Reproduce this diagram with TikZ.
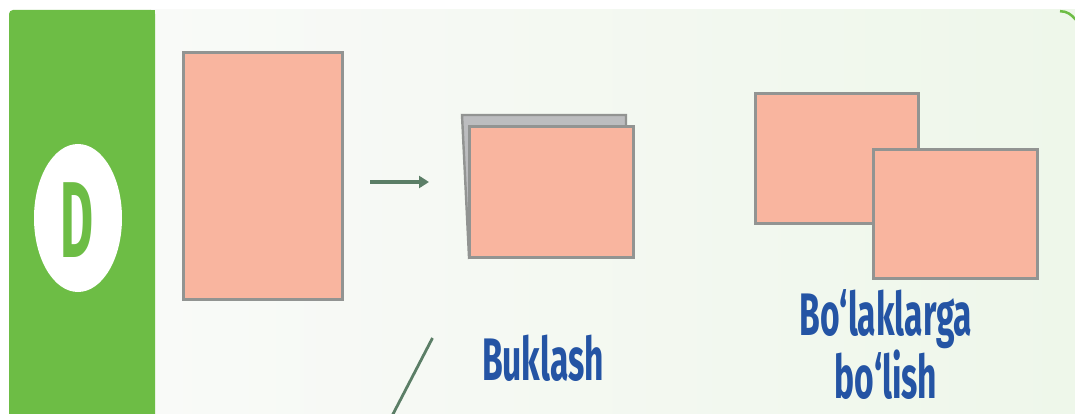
\documentclass[tikz,border=0pt]{standalone}
\usepackage{fontspec}
\newfontfamily\lblfont[FakeStretch=0.56]{Fira Sans}
\newfontfamily\badgefont[FakeStretch=0.47]{Fira Sans}
\usetikzlibrary{arrows.meta,shapes.geometric}
\definecolor{barGreen}{HTML}{6DBD45}
\definecolor{lblBlue}{HTML}{2454A4}
\definecolor{sheet}{HTML}{F9B59F}
\definecolor{sheetEdge}{HTML}{929492}
\definecolor{backSheet}{HTML}{BCBDBF}
\definecolor{arrowGreen}{HTML}{5B7E66}
\definecolor{bgLeft}{HTML}{F9FAF8}
\definecolor{bgRight}{HTML}{EEF7EA}
\tikzset{
  paper/.style={fill=sheet, draw=sheetEdge, line width=3pt},
  label/.style={text=lblBlue, font=\lblfont\bfseries\fontsize{60}{50}\selectfont, inner sep=0pt, align=center},
  connector/.style={draw=arrowGreen, line width=3.4pt},
}
\begin{document}
\begin{tikzpicture}[x=1pt,y=-1pt]
\useasboundingbox (0,0) rectangle (1075,414);
\fill[white] (0,0) rectangle (1075,414);
% light panel
\shade[left color=bgLeft, right color=bgRight] (150,10) rectangle (1075,414);
\draw[barGreen, line width=2.5pt] (1060,11.2) to[out=0,in=130] (1076,20);
% green bar
\fill[barGreen, rounded corners=4pt] (9,10) rectangle (155,430);
\fill[barGreen] (145,10) rectangle (155,414);
% badge
\node[ellipse, fill=white, minimum width=88pt, minimum height=148pt, inner sep=0pt] (badge) at (78,218) {};
\node[text=barGreen, font=\badgefont\bfseries\fontsize{108}{108}\selectfont, inner sep=0pt, anchor=base] (badgeD) at (77.5,257) {D};
% sheet 1
\node[paper, minimum width=159pt, minimum height=247pt, inner sep=0pt] (sheetA) at (262.5,176) {};
% folded sheet
\fill[backSheet, draw=sheetEdge, line width=2.4pt] (462,115) -- (626,115) -- (626,128) -- (469,257) -- cycle;
\node[paper, minimum width=164pt, minimum height=130pt, inner sep=0pt] (folded) at (551,192) {};
% arrow
\coordinate (arrS) at (370,182);
\coordinate (arrE) at (429,182);
\draw[connector, -{Triangle[length=10pt,width=12pt]}] (arrS) -- (arrE);
% pieces
\node[paper, minimum width=163pt, minimum height=129pt, inner sep=0pt] (pieceA) at (836.5,158.5) {};
\node[paper, minimum width=164pt, minimum height=128pt, inner sep=0pt] (pieceB) at (955,214) {};
% diagonal line
\coordinate (diagT) at (432.5,338);
\coordinate (diagB) at (392,416);
\draw[connector, line width=2.8pt] (diagT) -- (diagB);
% labels
\node[label, anchor=base] (lblFold) at (543,380) {Buklash};
\node[label, anchor=base] (lblSplit) at (886,398) {Bo‘laklarga\\bo‘lish};
\end{tikzpicture}
\end{document}
